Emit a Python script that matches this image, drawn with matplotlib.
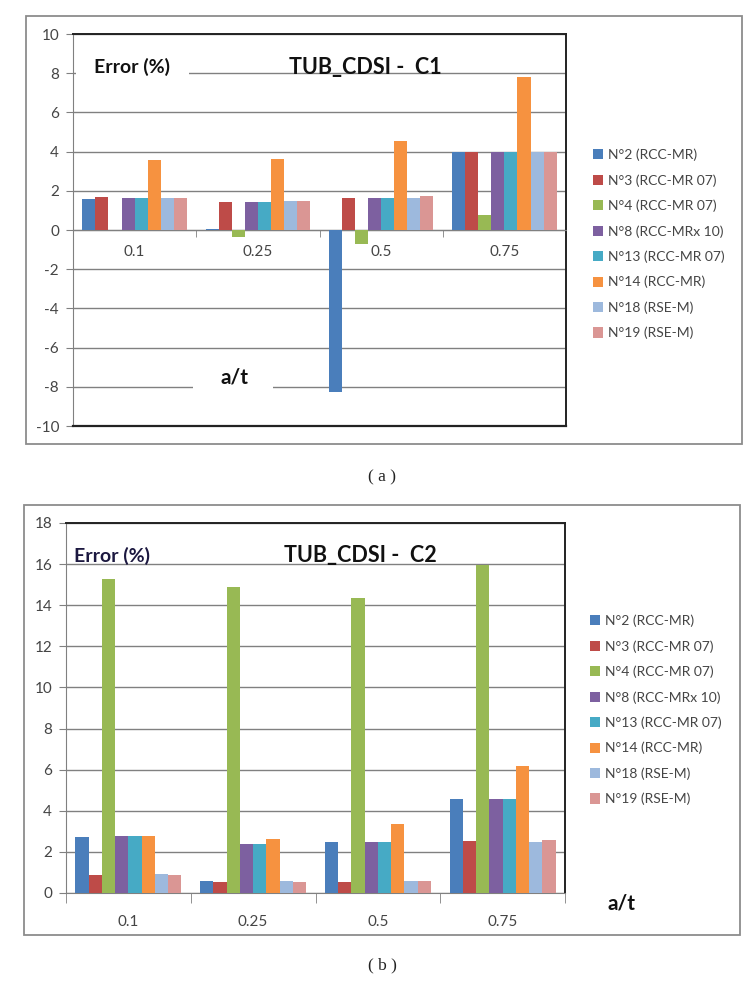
import numpy as np
import matplotlib
matplotlib.use('Agg')
import matplotlib.pyplot as plt
from matplotlib.patches import Rectangle, Patch

plt.rcParams['font.family'] = ['Lato', 'DejaVu Sans']
plt.rcParams['axes.unicode_minus'] = False

categories = ['0.1', '0.25', '0.5', '0.75']
series = ['N°2 (RCC-MR)', 'N°3 (RCC-MR 07)', 'N°4 (RCC-MR 07)', 'N°8 (RCC-MRx 10)',
          'N°13 (RCC-MR 07)', 'N°14 (RCC-MR)', 'N°18 (RSE-M)', 'N°19 (RSE-M)']
colors = ['#4A7EBB', '#BE4B48', '#98B954', '#7D60A0',
          '#46AAC5', '#F69240', '#9DB9DD', '#DA9694']

# error (%) per series, one value per a/t category
c1_n2 = [1.59, 0.03, -8.25, 3.98]
c1_n3 = [1.66, 1.45, 1.64, 3.98]
c1_n4 = [0.0, -0.34, -0.72, 0.77]
c1_n8 = [1.62, 1.44, 1.62, 3.98]
c1_n13 = [1.62, 1.44, 1.62, 3.98]
c1_n14 = [3.59, 3.64, 4.56, 7.81]
c1_n18 = [1.62, 1.50, 1.62, 3.98]
c1_n19 = [1.62, 1.50, 1.71, 3.98]

c2_n2 = [2.72, 0.60, 2.46, 4.56]
c2_n3 = [0.86, 0.52, 0.52, 2.54]
c2_n4 = [15.3, 14.9, 14.37, 15.95]
c2_n8 = [2.77, 2.40, 2.46, 4.56]
c2_n13 = [2.77, 2.40, 2.46, 4.56]
c2_n14 = [2.77, 2.65, 3.37, 6.20]
c2_n18 = [0.94, 0.60, 0.60, 2.50]
c2_n19 = [0.89, 0.53, 0.60, 2.59]

c1 = [c1_n2, c1_n3, c1_n4, c1_n8, c1_n13, c1_n14, c1_n18, c1_n19]
c2 = [c2_n2, c2_n3, c2_n4, c2_n8, c2_n13, c2_n14, c2_n18, c2_n19]

W, H = 752, 983
fig = plt.figure(figsize=(W / 100, H / 100), dpi=100)

def fx(px):
    return px / W

def fy(py):
    return 1 - py / H

# outer chart frames
for (x0, y0, x1, y1) in [(26, 16, 742, 444), (24, 505, 740, 935)]:
    fig.patches.append(Rectangle((fx(x0), fy(y1)), fx(x1 - x0), (y1 - y0) / H,
                                 transform=fig.transFigure, fill=False,
                                 edgecolor='#8c8c8c', lw=1.3))

grid_c = '#808080'
tick_c = '#454545'
bw = 0.106
x = np.arange(len(categories))


def draw_bars(ax, data):
    for k, vals in enumerate(data):
        ax.bar(x + (k - 3.5) * bw, vals, width=bw, color=colors[k], zorder=3,
               linewidth=0)


def style_axes(ax, ylim, step):
    ax.set_xlim(-0.5, 3.5)
    ax.set_ylim(*ylim)
    ax.set_yticks(np.arange(ylim[0], ylim[1] + 1, step))
    ax.yaxis.grid(True, color=grid_c, lw=1.0, zorder=1)
    ax.set_axisbelow(True)
    for s in ['top', 'right']:
        ax.spines[s].set_color('#222222')
        ax.spines[s].set_linewidth(1.4)
    ax.spines['left'].set_color(grid_c)
    ax.tick_params(axis='y', direction='out', length=5, color=grid_c,
                   labelsize=11, labelcolor=tick_c, pad=5)
    ax.set_xticks(x)
    ax.set_xticklabels(categories)
    ax.set_xticks(np.arange(-0.5, 4, 1), minor=True)
    ax.tick_params(axis='x', which='major', length=0, labelsize=11,
                   labelcolor=tick_c)
    ax.tick_params(axis='x', which='minor', direction='out', length=5,
                   color=grid_c)


# (a) C1
ax1 = fig.add_axes([fx(73), fy(426), fx(566 - 73), (426 - 34) / H])
draw_bars(ax1, c1)
style_axes(ax1, (-10, 10), 2)
ax1.spines['bottom'].set_position(('data', 0))
ax1.spines['bottom'].set_color(grid_c)
ax1.tick_params(axis='x', which='major', pad=11)
ax1.axhline(-10, color='#222222', lw=1.6, zorder=4, clip_on=False)
ax1.text(-0.02, 8.3, 'Error (%)', fontsize=14, fontweight='bold', color='#111111',
         ha='center', va='center', zorder=5,
         bbox=dict(boxstyle='square,pad=0.95', fc='white', ec='none'))
ax1.text(1.87, 8.3, 'TUB_CDSI -  C1', fontsize=15.5, fontweight='bold',
         color='#111111', ha='center', va='center', zorder=5)
ax1.add_patch(Rectangle((0.474, -8.5), 0.65, 1.2, fc='white', ec='none', zorder=2))
ax1.text(0.81, -7.55, 'a/t', fontsize=15, fontweight='bold', color='#111111',
         ha='center', va='center', zorder=5)

# (b) C2
ax2 = fig.add_axes([fx(66), fy(893), fx(565 - 66), (893 - 523) / H])
draw_bars(ax2, c2)
style_axes(ax2, (0, 18), 2)
ax2.spines['bottom'].set_color(grid_c)
ax2.tick_params(axis='x', which='minor', length=7)
ax2.tick_params(axis='x', which='major', pad=16)
ax2.text(-0.13, 16.4, 'Error (%)', fontsize=14, fontweight='bold', color='#1c1840',
         ha='center', va='center', zorder=5)
ax2.text(1.86, 16.4, 'TUB_CDSI -  C2', fontsize=15.5, fontweight='bold',
         color='#111111', ha='center', va='center', zorder=5)
fig.text(fx(621), fy(903), 'a/t', fontsize=15, fontweight='bold', color='#111111',
         ha='center', va='center')

handles = [Patch(facecolor=c, edgecolor='none') for c in colors]
for yc, x0 in [(244, 593), (710, 590)]:
    fig.legend(handles, series, loc='center left', bbox_to_anchor=(fx(x0), fy(yc)),
               frameon=False, fontsize=10, labelcolor='#454545',
               handlelength=0.75, handleheight=0.75, handletextpad=0.3,
               labelspacing=0.93, borderpad=0, borderaxespad=0)

fig.text(fx(382), fy(477), '( a )', fontsize=12.5, family='Liberation Serif',
         color='#222222', ha='center', va='center')
fig.text(fx(382), fy(965), '( b )', fontsize=12.5, family='Liberation Serif',
         color='#222222', ha='center', va='center')

fig.savefig('out.png', dpi=100)
